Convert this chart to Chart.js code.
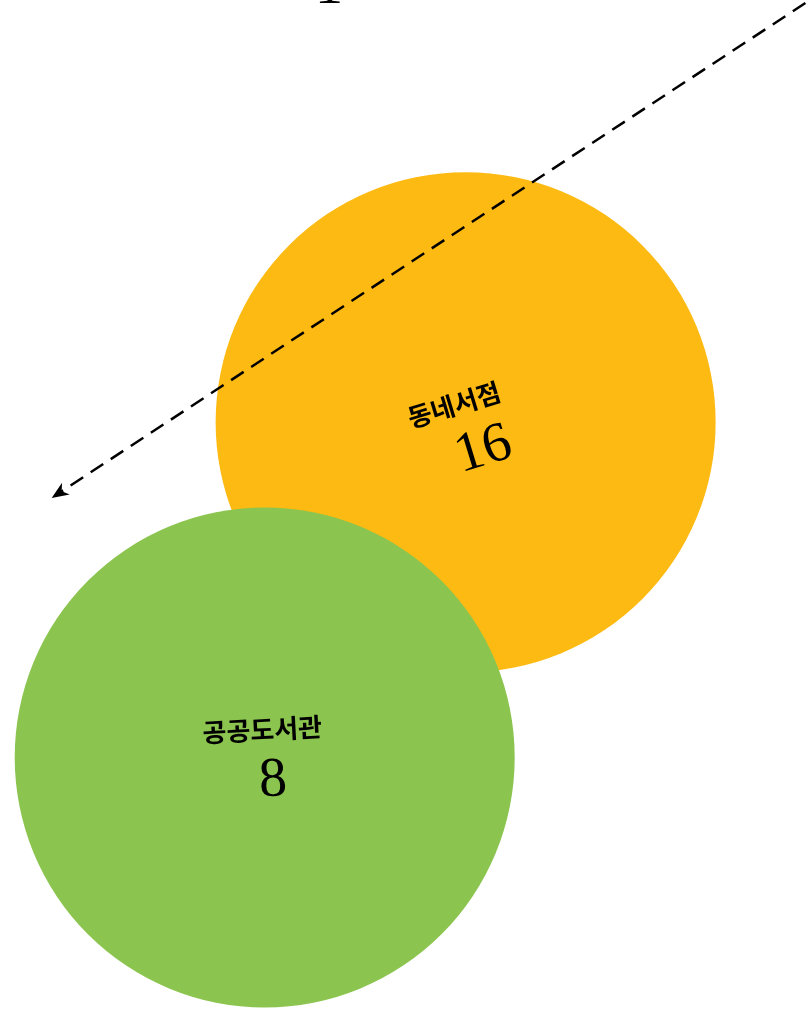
<!DOCTYPE html>
<html>
<head>
<meta charset="utf-8">
<script src="https://cdn.jsdelivr.net/npm/chart.js@4/dist/chart.umd.min.js"></script>
<style>
  html, body { margin: 0; padding: 0; background: #fff; }
  #wrap { width: 807px; height: 1010px; }
</style>
</head>
<body>
<div id="wrap"><canvas id="chart" width="807" height="1010"></canvas></div>
<script>
const categories = ['동네서점', '공공도서관'];
const counts = [16, 8];
const posX = [57.7, 32.8];
const posY = [58.2, 25.0];
const colors = ['#FDBA12', '#8BC54F'];

// label layout per bubble: rotation (deg), name offset, number offset (local frame)
const labelRot = [-17, -3];
const nameOff = [[-6, -20], [-1, -28]];
const numOff = [[9, 32], [7, 24]];

const points = categories.map((c, i) => ({ x: posX[i], y: posY[i] }));

const labelsPlugin = {
  id: 'bubbleLabels',
  afterDatasetsDraw(chart) {
    const ctx = chart.ctx;
    const meta = chart.getDatasetMeta(0);
    ctx.save();
    ctx.fillStyle = '#000';
    ctx.textAlign = 'center';
    ctx.textBaseline = 'middle';
    meta.data.forEach((pt, i) => {
      ctx.save();
      ctx.translate(pt.x, pt.y);
      ctx.rotate(labelRot[i] * Math.PI / 180);
      ctx.font = 'bold 26px "Noto Sans CJK KR"';
      ctx.fillText(categories[i], nameOff[i][0], nameOff[i][1]);
      ctx.font = '56px "Liberation Serif"';
      ctx.fillText(String(counts[i]), numOff[i][0], numOff[i][1]);
      ctx.restore();
    });
    // cut-off number at the top edge
    ctx.font = '56px "Liberation Serif"';
    ctx.textBaseline = 'alphabetic';
    ctx.fillText('1', 329, 3);
    ctx.restore();
  }
};

const arrowPlugin = {
  id: 'arrow',
  afterDraw(chart) {
    const ctx = chart.ctx;
    const xs = chart.scales.x, ys = chart.scales.y;
    const x1 = xs.getPixelForValue(99.8), y1 = ys.getPixelForValue(99.7);
    const x2 = xs.getPixelForValue(6.4), y2 = ys.getPixelForValue(50.7);
    const ang = Math.atan2(y2 - y1, x2 - x1);
    ctx.save();
    ctx.strokeStyle = '#000';
    ctx.lineWidth = 2.5;
    ctx.setLineDash([15, 9]);
    ctx.beginPath();
    ctx.moveTo(x1, y1);
    ctx.lineTo(x2 - 8 * Math.cos(ang), y2 - 8 * Math.sin(ang));
    ctx.stroke();
    ctx.setLineDash([]);
    ctx.translate(x2, y2);
    ctx.rotate(ang);
    ctx.fillStyle = '#000';
    ctx.beginPath();
    ctx.moveTo(0, 0);
    ctx.lineTo(-17, -7);
    ctx.lineTo(-12, 0);
    ctx.lineTo(-17, 7);
    ctx.closePath();
    ctx.fill();
    ctx.restore();
  }
};

new Chart(document.getElementById('chart').getContext('2d'), {
  type: 'bubble',
  data: {
    datasets: [{
      data: points,
      backgroundColor: colors,
      borderWidth: 0,
      radius: 250,
      hoverRadius: 0,
      clip: false
    }]
  },
  options: {
    responsive: false,
    animation: false,
    events: [],
    layout: { padding: 0, autoPadding: false },
    plugins: {
      legend: { display: false },
      tooltip: { enabled: false }
    },
    scales: {
      x: { display: false, min: 0, max: 100 },
      y: { display: false, min: 0, max: 100 }
    }
  },
  plugins: [labelsPlugin, arrowPlugin]
});
</script>
</body>
</html>
